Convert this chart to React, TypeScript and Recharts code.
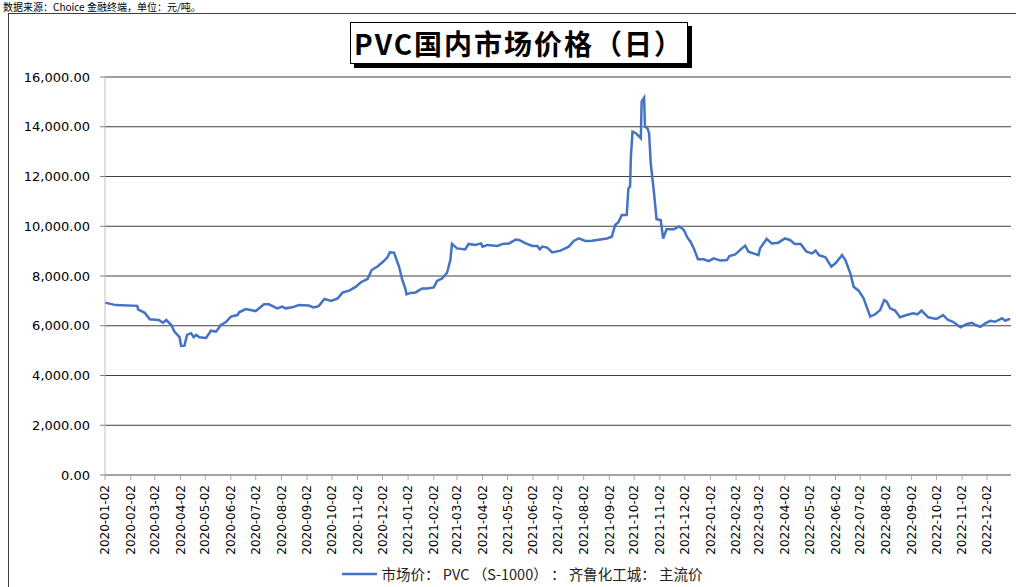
import React from 'react';
import { LineChart, Line, XAxis, YAxis, CartesianGrid, Legend } from 'recharts';

// 市场价：PVC（S-1000）：齐鲁化工城：主流价, 元/吨
const dates = [
  '2020-01-02', '2020-01-15', '2020-02-10', '2020-02-11', '2020-02-19', '2020-02-25', '2020-03-07', '2020-03-12',
  '2020-03-16', '2020-03-22', '2020-03-26', '2020-04-01', '2020-04-03', '2020-04-07', '2020-04-10', '2020-04-15',
  '2020-04-18', '2020-04-21', '2020-04-25', '2020-05-03', '2020-05-09', '2020-05-15', '2020-05-21', '2020-05-27',
  '2020-06-02', '2020-06-10', '2020-06-12', '2020-06-20', '2020-07-02', '2020-07-12', '2020-07-18', '2020-07-28',
  '2020-08-03', '2020-08-07', '2020-08-15', '2020-08-23', '2020-09-04', '2020-09-10', '2020-09-16', '2020-09-23',
  '2020-10-01', '2020-10-09', '2020-10-15', '2020-10-23', '2020-10-31', '2020-11-06', '2020-11-14', '2020-11-19',
  '2020-11-26', '2020-12-03', '2020-12-08', '2020-12-11', '2020-12-16', '2020-12-22', '2020-12-26', '2020-12-30',
  '2020-12-31', '2021-01-05', '2021-01-11', '2021-01-19', '2021-01-25', '2021-02-02', '2021-02-06', '2021-02-12',
  '2021-02-18', '2021-02-22', '2021-02-24', '2021-03-02', '2021-03-12', '2021-03-16', '2021-03-24', '2021-03-31',
  '2021-04-02', '2021-04-08', '2021-04-20', '2021-04-26', '2021-05-04', '2021-05-12', '2021-05-16', '2021-05-24',
  '2021-06-01', '2021-06-07', '2021-06-10', '2021-06-13', '2021-06-19', '2021-06-25', '2021-07-05', '2021-07-15',
  '2021-07-21', '2021-07-27', '2021-08-04', '2021-08-12', '2021-08-22', '2021-08-30', '2021-09-05', '2021-09-09',
  '2021-09-13', '2021-09-17', '2021-09-23', '2021-09-25', '2021-09-27', '2021-09-28', '2021-09-30', '2021-10-04',
  '2021-10-10', '2021-10-11', '2021-10-14', '2021-10-15', '2021-10-18', '2021-10-20', '2021-10-22', '2021-10-26',
  '2021-10-29', '2021-11-03', '2021-11-06', '2021-11-10', '2021-11-19', '2021-11-25', '2021-11-27', '2021-12-01',
  '2021-12-05', '2021-12-09', '2021-12-13', '2021-12-18', '2021-12-25', '2021-12-31', '2022-01-06', '2022-01-14',
  '2022-01-22', '2022-01-25', '2022-02-01', '2022-02-07', '2022-02-13', '2022-02-17', '2022-03-01', '2022-03-03',
  '2022-03-11', '2022-03-17', '2022-03-25', '2022-04-02', '2022-04-08', '2022-04-14', '2022-04-21', '2022-04-28',
  '2022-05-05', '2022-05-09', '2022-05-13', '2022-05-21', '2022-05-28', '2022-06-02', '2022-06-10', '2022-06-14',
  '2022-06-20', '2022-06-24', '2022-06-30', '2022-07-06', '2022-07-10', '2022-07-14', '2022-07-20', '2022-07-26',
  '2022-07-31', '2022-08-03', '2022-08-07', '2022-08-13', '2022-08-19', '2022-08-27', '2022-09-04', '2022-09-09',
  '2022-09-14', '2022-09-22', '2022-10-02', '2022-10-10', '2022-10-16', '2022-10-22', '2022-10-31', '2022-11-08',
  '2022-11-14', '2022-11-18', '2022-11-24', '2022-11-30', '2022-12-06', '2022-12-12', '2022-12-20', '2022-12-24',
  '2022-12-28', '2022-12-30',
];

const prices = [
  6930, 6830, 6800, 6660, 6520, 6260, 6230, 6120,
  6230, 6030, 5760, 5540, 5190, 5200, 5630, 5700,
  5540, 5630, 5540, 5510, 5800, 5760, 6030, 6150,
  6370, 6430, 6540, 6670, 6590, 6860, 6860, 6700,
  6770, 6700, 6740, 6830, 6810, 6740, 6790, 7080,
  7000, 7100, 7340, 7410, 7570, 7750, 7880, 8240,
  8380, 8580, 8750, 8950, 8940, 8380, 7840, 7460,
  7260, 7320, 7340, 7500, 7500, 7540, 7800, 7900,
  8130, 8640, 9290, 9110, 9070, 9290, 9250, 9310,
  9180, 9250, 9210, 9290, 9310, 9470, 9450, 9310,
  9210, 9210, 9070, 9180, 9140, 8950, 9020, 9180,
  9410, 9510, 9410, 9420, 9470, 9510, 9580, 10050,
  10160, 10450, 10450, 11520, 11590, 12800, 13800, 13740,
  13540, 15010, 15170, 14000, 13940, 13740, 12530, 11320,
  10280, 10250, 9500, 9880, 9880, 9990, 9960, 9850,
  9560, 9380, 9110, 8670, 8670, 8600, 8710, 8620,
  8640, 8800, 8870, 9050, 9220, 8980, 8840, 9110,
  9490, 9310, 9340, 9510, 9450, 9290, 9290, 8980,
  8910, 9020, 8840, 8750, 8380, 8510, 8840, 8640,
  8110, 7570, 7410, 7100, 6740, 6370, 6460, 6630,
  7030, 6970, 6700, 6610, 6340, 6430, 6500, 6460,
  6610, 6340, 6270, 6430, 6230, 6160, 5940, 6070,
  6120, 6030, 5960, 6100, 6200, 6160, 6300, 6200,
  6260, 6260,
];

const xTicks = [
  '2020-01-02', '2020-02-02', '2020-03-02', '2020-04-02', '2020-05-02', '2020-06-02',
  '2020-07-02', '2020-08-02', '2020-09-02', '2020-10-02', '2020-11-02', '2020-12-02',
  '2021-01-02', '2021-02-02', '2021-03-02', '2021-04-02', '2021-05-02', '2021-06-02',
  '2021-07-02', '2021-08-02', '2021-09-02', '2021-10-02', '2021-11-02', '2021-12-02',
  '2022-01-02', '2022-02-02', '2022-03-02', '2022-04-02', '2022-05-02', '2022-06-02',
  '2022-07-02', '2022-08-02', '2022-09-02', '2022-10-02', '2022-11-02', '2022-12-02',
];

const yTicks = [0, 2000, 4000, 6000, 8000, 10000, 12000, 14000, 16000];

const seriesName = '市场价： PVC （S-1000） ： 齐鲁化工城： 主流价';
const lineColor = '#4472C4';

const toTime = (d: string) => Date.parse(d + 'T00:00:00Z');
const fmtDate = (t: number) => new Date(t).toISOString().slice(0, 10);

const data = dates.map((d, i) => ({ t: toTime(d), price: prices[i] }));

const DateTick = (props: any) => {
  const { x, y, payload } = props;
  return (
    <text
      x={x}
      y={y}
      dy="0.35em"
      transform={`rotate(-90, ${x}, ${y})`}
      textAnchor="end"
      fill="#000"
      fontSize={12}
      fontFamily="DejaVu Sans"
    >
      {fmtDate(payload.value)}
    </text>
  );
};

const LegendBox = () => (
  <div style={{ height: 27, display: 'flex', alignItems: 'center', justifyContent: 'center', paddingLeft: 28 }}>
    <svg width={36} height={10} style={{ marginRight: 4 }}>
      <line x1={0} y1={5} x2={35} y2={5} stroke={lineColor} strokeWidth={2.5} />
    </svg>
    <span style={{ fontSize: 14.5, fontFamily: '"Noto Sans CJK SC", "DejaVu Sans"', color: '#222', whiteSpace: 'pre' }}>{seriesName}</span>
  </div>
);

export default function App() {
  return (
    <div style={{ position: 'absolute', left: 0, top: 0, width: 1016, height: 587, overflow: 'hidden', background: '#fff' }}>
      <div style={{ position: 'absolute', left: 3, top: 1, fontSize: 10, lineHeight: '11px', fontFamily: '"Noto Sans CJK SC"', whiteSpace: 'nowrap', color: '#000' }}>
        数据来源：Choice 金融终端，单位：元/吨。
      </div>
      <div style={{ position: 'absolute', left: 8, top: 13, width: 1100, height: 700, border: '1px solid #404040' }} />
      <div
        style={{
          position: 'absolute', left: 350, top: 22, width: 336, height: 40, border: '1.5px solid #000',
          boxShadow: '4px 4px 0 #000', background: '#fff', display: 'flex', alignItems: 'center', justifyContent: 'center',
          fontSize: 28, fontWeight: 'bold', fontFamily: '"Noto Sans CJK SC"', letterSpacing: 2, color: '#000',
        }}
      >
        PVC国内市场价格（日）
      </div>
      <div style={{ position: 'absolute', left: 0, top: 0 }}>
        <LineChart width={1016} height={587} data={data} margin={{ top: 77, right: 5, left: 0, bottom: 0 }}>
          <CartesianGrid vertical={false} stroke="#404040" strokeWidth={1} />
          <XAxis
            dataKey="t"
            type="number"
            scale="time"
            domain={[toTime('2020-01-02'), toTime('2022-12-31')]}
            ticks={xTicks.map(toTime)}
            interval={0}
            tick={<DateTick />}
            tickSize={5}
            tickMargin={5}
            height={85}
            axisLine={{ stroke: '#a6a6a6' }}
            tickLine={{ stroke: '#a6a6a6' }}
          />
          <YAxis
            domain={[0, 16000]}
            ticks={yTicks}
            width={105}
            tickSize={5}
            tickMargin={10}
            tickFormatter={(v: number) => v.toLocaleString('en-US', { minimumFractionDigits: 2, maximumFractionDigits: 2 })}
            tick={{ fill: '#000', fontSize: 13, fontFamily: 'DejaVu Sans' }}
            axisLine={{ stroke: '#bfbfbf' }}
            tickLine={{ stroke: '#808080' }}
          />
          <Legend verticalAlign="bottom" content={<LegendBox />} wrapperStyle={{ left: 0, width: 1016 }} />
          <Line
            type="linear"
            dataKey="price"
            name={seriesName}
            stroke={lineColor}
            strokeWidth={2.5}
            dot={false}
            isAnimationActive={false}
          />
        </LineChart>
      </div>
    </div>
  );
}
